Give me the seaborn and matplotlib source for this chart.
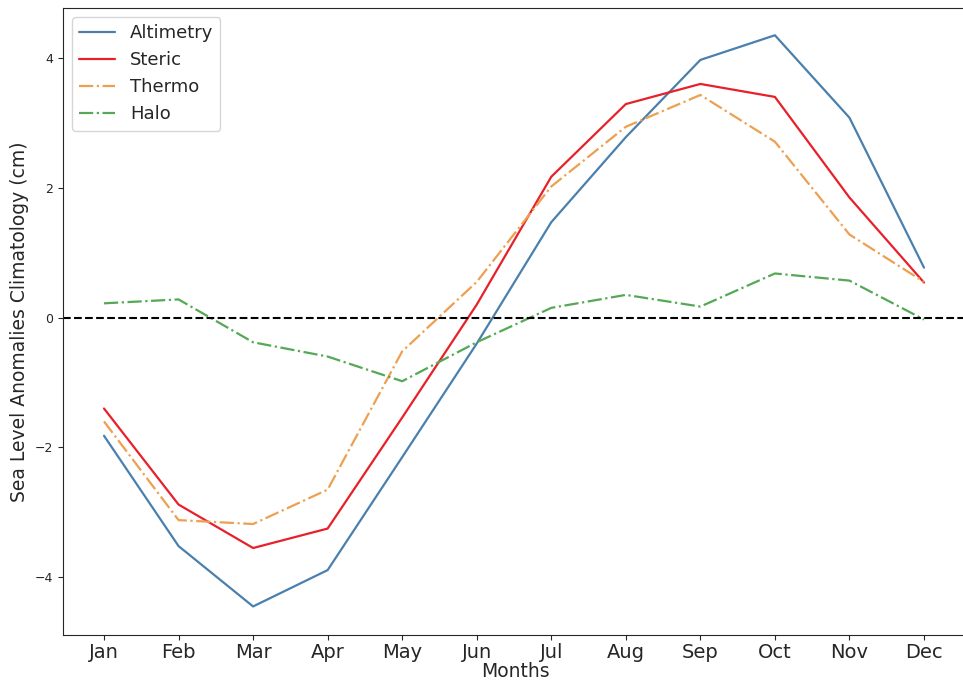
#!/usr/bin/env python3
"""
Monthly sea level anomaly climatology: altimetry vs steric components.
"""
import numpy as np
import pandas as pd
import matplotlib
matplotlib.use("Agg")
import matplotlib.pyplot as plt
import seaborn as sns

months = ["Jan", "Feb", "Mar", "Apr", "May", "Jun",
          "Jul", "Aug", "Sep", "Oct", "Nov", "Dec"]

altimetry = [-1.82, -3.52, -4.45, -3.89, -2.15, -0.40,
             1.47, 2.78, 3.97, 4.35, 3.08, 0.77]
steric = [-1.40, -2.88, -3.55, -3.25, -1.54, 0.20,
          2.17, 3.29, 3.60, 3.40, 1.85, 0.54]
thermo = [-1.60, -3.12, -3.18, -2.65, -0.52, 0.55,
          2.02, 2.94, 3.43, 2.71, 1.28, 0.55]
halo = [0.22, 0.28, -0.38, -0.60, -0.98, -0.38,
        0.15, 0.35, 0.17, 0.68, 0.57, -0.03]

series_names = ["Altimetry", "Steric", "Thermo", "Halo"]
colors = ["#4a80ad", "#e8202a", "#eda050", "#55a855"]
styles = ["-", "-", "-.", "-."]

df = pd.DataFrame({"month": np.arange(12), "Altimetry": altimetry,
                   "Steric": steric, "Thermo": thermo, "Halo": halo})

sns.set_style("ticks")

fig = plt.figure(figsize=(9.63, 6.83), dpi=100)
# right spine sits just past the image edge, as in the cropped original
ax = fig.add_axes([63 / 963, 1 - 635 / 683, (968 - 63) / 963, (635 - 8) / 683])

for name, c, ls in zip(series_names, colors, styles):
    sns.lineplot(data=df, x="month", y=name, color=c, linestyle=ls,
                 linewidth=1.6, label=name, ax=ax)

ax.axhline(0, color="black", linestyle="--", linewidth=1.5)

ax.set_xticks(np.arange(12))
ax.set_xticklabels(months, fontsize=14)
ax.set_yticks([-4, -2, 0, 2, 4])
ax.tick_params(axis="y", labelsize=9)
ax.tick_params(axis="x", pad=2)
ax.set_xlabel("Months", fontsize=13.5, labelpad=0)
ax.set_ylabel("Sea Level Anomalies Climatology (cm)", fontsize=13.5)
ax.set_xlim(-0.55, 11.55 + 3 / 74.7)
ax.set_ylim(-4.89, 4.77)
ax.spines["right"].set_visible(False)

ax.legend(loc="upper left", fontsize=13, handlelength=2.0)

plt.savefig("out.png", dpi=100)
